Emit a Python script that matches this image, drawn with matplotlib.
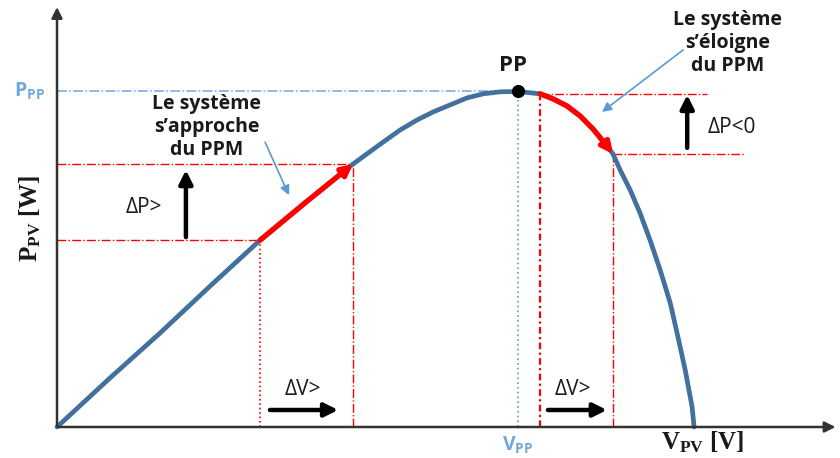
import matplotlib
matplotlib.use("Agg")
import matplotlib.pyplot as plt

plt.rcParams['mathtext.fontset'] = 'custom'
plt.rcParams['mathtext.bf'] = 'Liberation Serif:bold'
plt.rcParams['mathtext.sf'] = 'Open Sans:bold'

# P-V curve of the PV panel (V in volts, P in watts)
v_pv = [0, 1.84, 3.58, 5.32, 7.06, 8.62, 10.29, 11.33, 11.92, 12.51, 13.07,
        13.66, 14.25, 14.81, 15.40, 16.02, 16.79, 17.24, 17.72, 18.18, 18.63,
        19.05, 19.32, 19.57, 19.92, 20.26, 20.61, 20.96, 21.31, 21.58, 21.83,
        22.07, 22.14]
p_pv = [0, 14.6, 28.0, 42.0, 55.7, 66.8, 78.4, 84.9, 88.5, 91.5, 93.9,
        96.0, 98.1, 99.3, 99.9, 100.0, 99.3, 97.8, 95.7, 92.7, 88.8,
        84.4, 81.4, 76.6, 70.6, 63.8, 55.7, 46.8, 37.0, 26.8, 17.0,
        6.0, 0]

i_pp = 15               # maximum power point
left_step = (4, 6)      # operating point moving towards the MPP
right_step = (16, 22)   # operating point moving away from the MPP

blue = '#41719c'
light_blue = '#6fa8dc'
red = '#ff0000'
txt = '#1a1a1a'
font = 'Open Sans'

fig = plt.figure(figsize=(8.4, 4.58), dpi=100)
ax = fig.add_axes([0, 0, 1, 1])
ax.set_xlim(-1.981, 27.21)
ax.set_ylim(-9.24, 127.27)
ax.axis('off')

v_pp, p_pp = v_pv[i_pp], p_pv[i_pp]

# axes with arrow heads
ax.annotate('', xy=(0, 126.0), xytext=(0, -0.6),
            arrowprops=dict(arrowstyle='-|>', color='#333333', lw=1.8, mutation_scale=16))
ax.annotate('', xy=(27.15, 0), xytext=(-0.05, 0),
            arrowprops=dict(arrowstyle='-|>', color='#333333', lw=1.8, mutation_scale=16))

# guides to the maximum power point
ax.plot([0, v_pp], [p_pp, p_pp], color=light_blue, lw=1.1, ls='-.')
ax.plot([v_pp, v_pp], [0, p_pp], color=light_blue, lw=1.3, ls=':')

# red guides for the two perturbation steps
a, b = left_step
ax.plot([0, v_pv[a]], [p_pv[a], p_pv[a]], color=red, lw=1.0, ls='-.')
ax.plot([0, v_pv[b]], [p_pv[b], p_pv[b]], color=red, lw=1.0, ls='-.')
ax.plot([v_pv[a], v_pv[a]], [0, p_pv[a]], color=red, lw=1.2, ls=':')
ax.plot([v_pv[b], v_pv[b]], [0, p_pv[b]], color=red, lw=1.0, ls='-.')
c, d = right_step
ax.plot([v_pv[c], 22.6], [p_pv[c], p_pv[c]], color=red, lw=1.0, ls='-.')
ax.plot([v_pv[d], 23.9], [p_pv[d], p_pv[d]], color=red, lw=1.0, ls='-.')
ax.plot([v_pv[c], v_pv[c]], [0, p_pv[c]], color=red, lw=1.6, ls=(0, (3, 1.5, 1, 1.5)))
ax.plot([v_pv[d], v_pv[d]], [0, p_pv[d]], color=red, lw=1.0, ls='-.')

# the curve
ax.plot(v_pv, p_pv, color=blue, lw=3.4, solid_capstyle='round', solid_joinstyle='round')

# red moves along the curve
for s, e in (left_step, right_step):
    ax.plot(v_pv[s:e], p_pv[s:e], color=red, lw=3.8, solid_capstyle='round',
            solid_joinstyle='round')
    ax.annotate('', xy=(v_pv[e], p_pv[e]), xytext=(v_pv[e - 1], p_pv[e - 1]),
                arrowprops=dict(arrowstyle='-|>', color=red, lw=3.8,
                                mutation_scale=16, shrinkA=0, shrinkB=0,
                                capstyle='round'))

ax.plot([v_pp], [p_pp], 'o', color='black', ms=8.5, zorder=5)
ax.text(15.85, 107.6, 'PP', fontsize=16, fontweight='bold', family=font,
        color=txt, ha='center', va='center')

# black step arrows
big = dict(arrowstyle='-|>', color='black', lw=3.2, mutation_scale=20,
           shrinkA=0, shrinkB=0)
ax.annotate('', xy=(4.48, 76.6), xytext=(4.48, 56.6), arrowprops=big)
ax.annotate('', xy=(21.9, 99.0), xytext=(21.9, 83.2), arrowprops=big)
ax.annotate('', xy=(9.77, 5.07), xytext=(7.40, 5.07), arrowprops=big)
ax.annotate('', xy=(19.11, 5.07), xytext=(17.06, 5.07), arrowprops=big)

ax.text(3.02, 65.3, 'ΔP>', fontsize=15, color=txt, family=font, ha='center', va='center')
ax.text(23.46, 89.4, 'ΔP<0', fontsize=15, color=txt, family=font, ha='center', va='center')
ax.text(8.55, 11.2, 'ΔV>', fontsize=15, color=txt, family=font, ha='center', va='center')
ax.text(17.93, 11.2, 'ΔV>', fontsize=15, color=txt, family=font, ha='center', va='center')

# notes with thin blue pointers
ax.text(5.21, 89.4, 'Le système\ns’approche\ndu PPM', fontsize=14, fontweight='bold',
        family=font, color=txt, ha='center', va='center', linespacing=1.2)
ax.text(23.3, 114.5, 'Le système\ns’éloigne\ndu PPM', fontsize=14, fontweight='bold',
        family=font, color=txt, ha='center', va='center', linespacing=1.2)
thin = dict(arrowstyle='-|>', color='#5b9bd5', lw=1.2, mutation_scale=14,
            shrinkA=0, shrinkB=0)
ax.annotate('', xy=(8.06, 69.1), xytext=(7.23, 84.9), arrowprops=thin)
ax.annotate('', xy=(18.94, 93.9), xytext=(21.76, 112.4), arrowprops=thin)

# axis labels
ax.text(-0.42, p_pp, r'$\mathsf{P_{PP}}$', fontsize=14, color=light_blue,
        ha='right', va='center')
ax.text(v_pp, -5.4, r'$\mathsf{V_{PP}}$', fontsize=14, color=light_blue,
        ha='center', va='center')
ax.text(22.42, -4.5, r'$\mathbf{V_{PV}}$ [V]', fontsize=18, fontweight='bold',
        family='Liberation Serif', color=txt, ha='center', va='center')
ax.text(-0.94, 62.3, r'$\mathbf{P_{PV}}$ [W]', fontsize=18, fontweight='bold',
        family='Liberation Serif', color=txt, ha='center', va='center', rotation=90)

fig.savefig('out.png', dpi=100)
